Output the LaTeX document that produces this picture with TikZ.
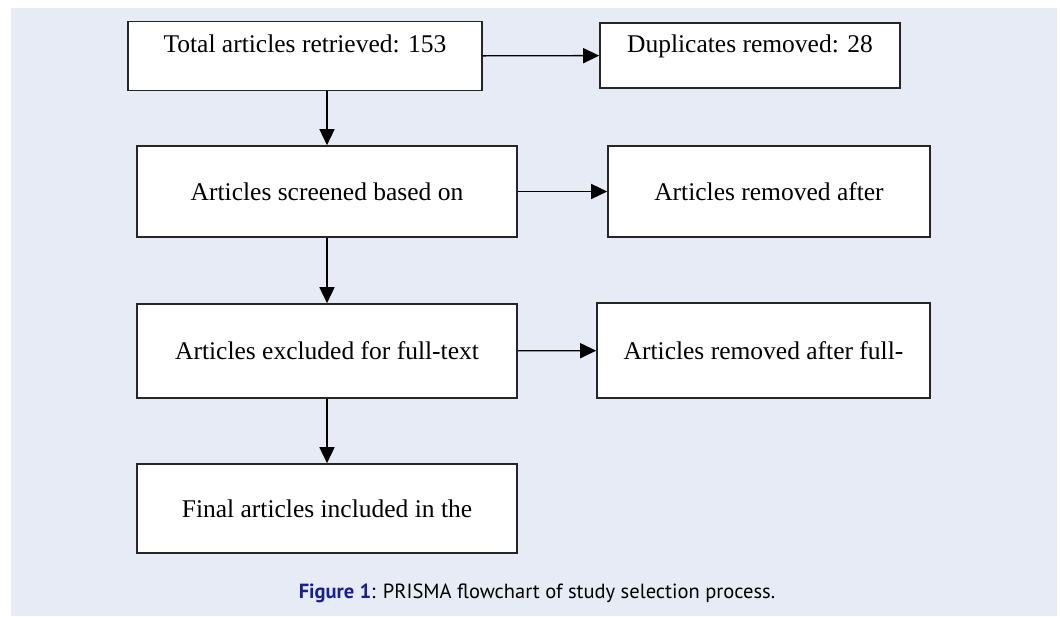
\documentclass[tikz,border=0pt]{standalone}
\usepackage{fontspec}
\setmainfont{Liberation Serif}
\newfontfamily\captionfont{PT Sans}
\usetikzlibrary{arrows.meta}
\definecolor{bgcolor}{RGB}{230,235,246}
\definecolor{figlabelcolor}{RGB}{25,30,150}

\begin{document}
\begin{tikzpicture}[
    x=1pt, y=-1pt,
    box/.style={rectangle, draw=black!85, line width=1.6pt, fill=white, inner sep=0pt, align=center, font=\fontsize{25.5}{30}\selectfont},
    arrow/.style={-{Triangle[length=16pt,width=15pt]}, line width=1.4pt, black}
]
\useasboundingbox (0,0) rectangle (1060,616);

% Background
\fill[bgcolor] (11,8) rectangle (1057,616);

% Main column
\node[box, minimum width=354pt, text height=31pt, text depth=38pt] (total) at (305,56) {Total articles retrieved: 153};
\node[box, minimum width=380pt, minimum height=91pt] (screened) at (327,191.5) {Articles screened based on};
\node[box, minimum width=380pt, minimum height=94pt] (excluded) at (327,351) {Articles excluded for full-text};
\node[box, minimum width=380pt, minimum height=89pt] (final) at (327,508.5) {Final articles included in the};

% Removed articles
\node[box, minimum width=300pt, text height=29pt, text depth=36pt] (duplicates) at (750,55.5) {Duplicates removed: 28};
\node[box, minimum width=322pt, minimum height=91pt] (removed) at (769,191.5) {Articles removed after};
\node[box, minimum width=333pt, minimum height=95pt] (fulltext) at (763.5,350.5) {Articles removed after full-};

% Arrows
\draw[arrow] (screened.north |- total.south) -- (screened);
\draw[arrow] (screened) -- (excluded);
\draw[arrow] (excluded) -- (final);
\draw[arrow] (total) -- (duplicates);
\draw[arrow] (screened) -- (removed);
\draw[arrow] (excluded) -- (fulltext);

% Caption
\node[font=\captionfont\fontsize{20.5}{24}\selectfont] (caption) at (537,593) {{\color{figlabelcolor}\bfseries Figure 1}: PRISMA flowchart of study selection process.};

\end{tikzpicture}
\end{document}
